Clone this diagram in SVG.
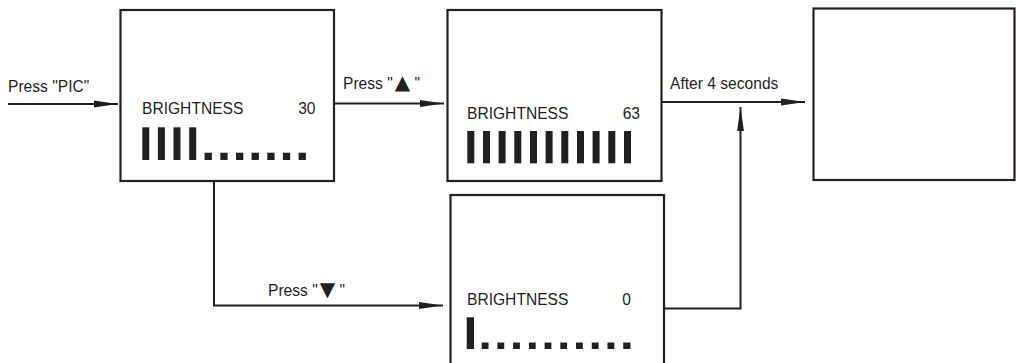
<svg xmlns="http://www.w3.org/2000/svg" width="1016" height="363" viewBox="0 0 1016 363">
  <style>
    .box { fill: #ffffff; stroke: #231f20; stroke-width: 2.2; }
    .line { fill: none; stroke: #231f20; stroke-width: 2; }
    .txt { font-family: "Liberation Sans", Arial, sans-serif; font-size: 15.6px; fill: #231f20; }
    .sym { font-family: "DejaVu Sans", sans-serif; font-size: 20px; }
    .bar { fill: #231f20; }
  </style>
  <defs>
    <marker id="arrow" viewBox="0 0 24 8" refX="24" refY="4" markerWidth="24" markerHeight="8" markerUnits="userSpaceOnUse" orient="auto">
      <path d="M0,0.6 L24,4 L0,7.4 Z" fill="#231f20"/>
    </marker>
  </defs>
  <rect width="1016" height="363" fill="#ffffff"/>

  <g id="connectors">
    <line class="line" x1="8" y1="104" x2="118" y2="104" marker-end="url(#arrow)"/>
    <text class="txt" x="8" y="91.5">Press "PIC"</text>

    <line class="line" x1="335" y1="103.5" x2="444" y2="103.5" marker-end="url(#arrow)"/>
    <text class="txt" x="343" y="88.5">Press "<tspan class="sym" dx="2">▲</tspan> "</text>

    <line class="line" x1="662" y1="102" x2="805" y2="102" marker-end="url(#arrow)"/>
    <text class="txt" x="670" y="89">After 4 seconds</text>

    <polyline class="line" points="214,181 214,305.5 443,305.5" marker-end="url(#arrow)"/>
    <text class="txt" x="268" y="296">Press "<tspan class="sym" dx="2">▼</tspan> "</text>

    <polyline class="line" points="664,308.5 740.5,308.5 740.5,107" marker-end="url(#arrow)"/>
  </g>

  <g id="node-brightness-30">
    <rect class="box" x="120.5" y="10" width="213.5" height="171"/>
    <text class="txt" x="142" y="114">BRIGHTNESS</text>
    <text class="txt" x="315.5" y="114" text-anchor="end">30</text>
    <rect class="bar" x="142.3" y="127.3" width="7" height="32.7"/>
    <rect class="bar" x="157.9" y="127.3" width="7" height="32.7"/>
    <rect class="bar" x="173.5" y="127.3" width="7" height="32.7"/>
    <rect class="bar" x="189.2" y="127.3" width="7" height="32.7"/>
    <rect class="bar" x="204.6" y="152.7" width="7.3" height="7.3"/>
    <rect class="bar" x="220.3" y="152.7" width="7.3" height="7.3"/>
    <rect class="bar" x="236" y="152.7" width="7.3" height="7.3"/>
    <rect class="bar" x="251.6" y="152.7" width="7.3" height="7.3"/>
    <rect class="bar" x="267.3" y="152.7" width="7.3" height="7.3"/>
    <rect class="bar" x="282.9" y="152.7" width="7.3" height="7.3"/>
    <rect class="bar" x="298.6" y="152.7" width="7.3" height="7.3"/>
  </g>

  <g id="node-brightness-63">
    <rect class="box" x="447.5" y="10" width="214" height="171"/>
    <text class="txt" x="467" y="119">BRIGHTNESS</text>
    <text class="txt" x="640" y="119" text-anchor="end">63</text>
    <rect class="bar" x="467.3" y="131" width="7" height="32.3"/>
    <rect class="bar" x="483" y="131" width="7" height="32.3"/>
    <rect class="bar" x="498.6" y="131" width="7" height="32.3"/>
    <rect class="bar" x="514.3" y="131" width="7" height="32.3"/>
    <rect class="bar" x="530" y="131" width="7" height="32.3"/>
    <rect class="bar" x="545.6" y="131" width="7" height="32.3"/>
    <rect class="bar" x="561.3" y="131" width="7" height="32.3"/>
    <rect class="bar" x="577" y="131" width="7" height="32.3"/>
    <rect class="bar" x="592.6" y="131" width="7" height="32.3"/>
    <rect class="bar" x="608.3" y="131" width="7" height="32.3"/>
    <rect class="bar" x="624" y="131" width="7" height="32.3"/>
  </g>

  <g id="node-result">
    <rect class="box" x="813.5" y="8.5" width="201" height="171.5"/>
  </g>

  <g id="node-brightness-0">
    <rect class="box" x="450.5" y="195" width="213.5" height="180"/>
    <text class="txt" x="467" y="305">BRIGHTNESS</text>
    <text class="txt" x="631" y="305" text-anchor="end">0</text>
    <rect class="bar" x="466.7" y="317.3" width="7.3" height="31.7"/>
    <rect class="bar" x="481.7" y="342.5" width="6.8" height="6.5"/>
    <rect class="bar" x="497.4" y="342.5" width="6.8" height="6.5"/>
    <rect class="bar" x="513.1" y="342.5" width="6.8" height="6.5"/>
    <rect class="bar" x="528.9" y="342.5" width="6.8" height="6.5"/>
    <rect class="bar" x="544.6" y="342.5" width="6.8" height="6.5"/>
    <rect class="bar" x="560.3" y="342.5" width="6.8" height="6.5"/>
    <rect class="bar" x="576" y="342.5" width="6.8" height="6.5"/>
    <rect class="bar" x="591.8" y="342.5" width="6.8" height="6.5"/>
    <rect class="bar" x="607.5" y="342.5" width="6.8" height="6.5"/>
    <rect class="bar" x="623.2" y="342.5" width="7.3" height="6.5"/>
  </g>
</svg>
